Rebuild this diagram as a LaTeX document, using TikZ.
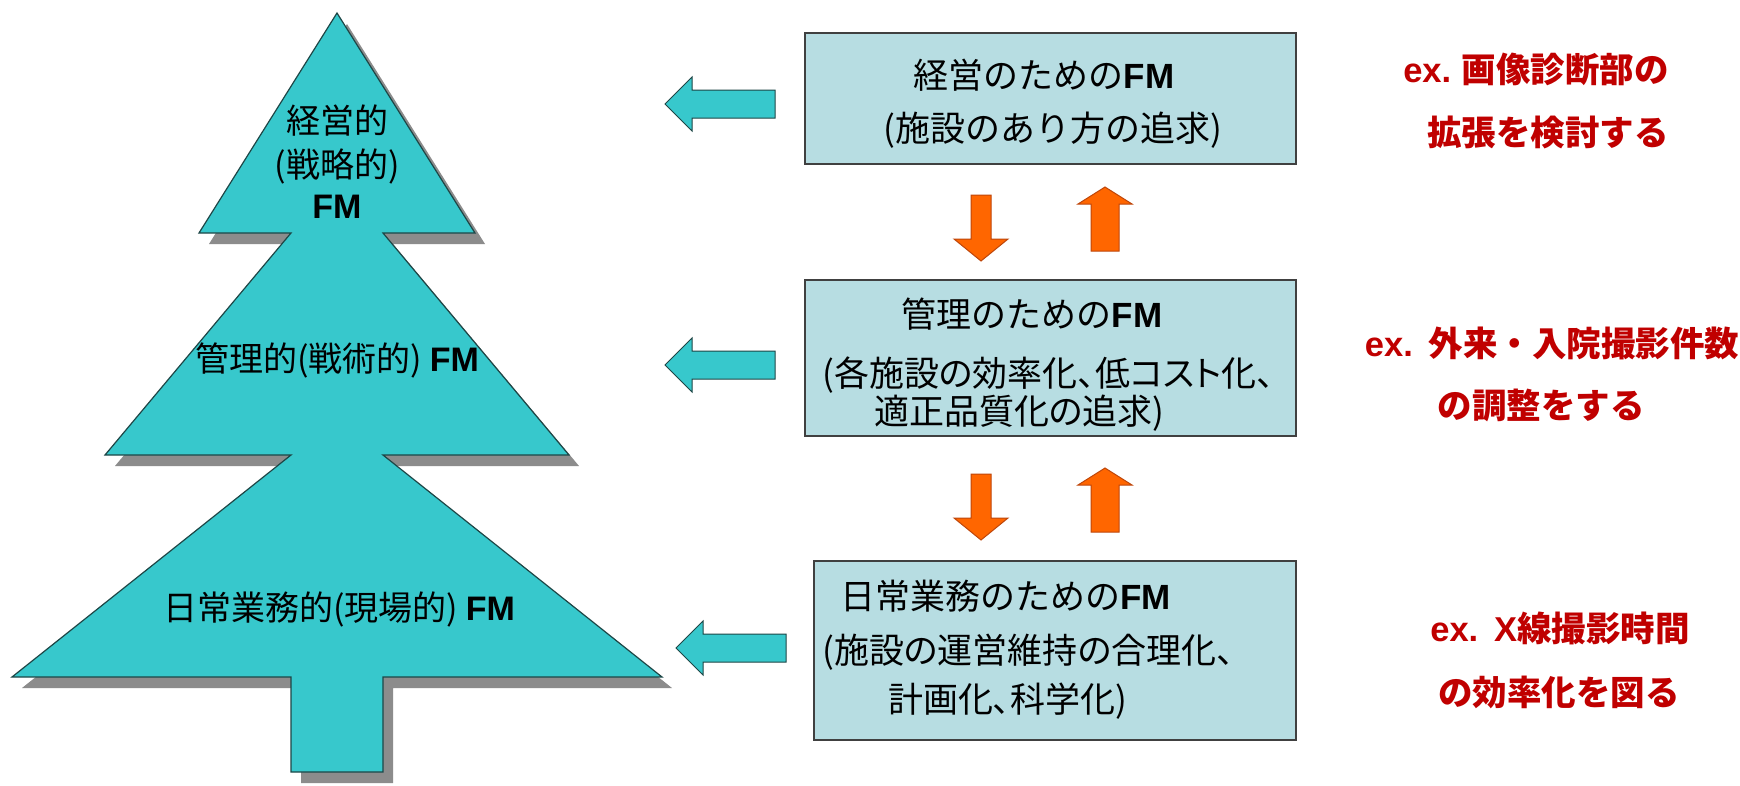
\documentclass[tikz,border=0pt]{standalone}
\usepackage{fontspec}
\setmainfont{Noto Sans CJK JP}
\newfontfamily\paltjp{Noto Sans CJK JP}[RawFeature=+palt]
\newfontfamily\lat{Liberation Sans}
\newcommand\FMtxt{{\lat\bfseries FM}}
\definecolor{treefill}{RGB}{55,200,204}
\definecolor{treeline}{RGB}{30,70,70}
\definecolor{boxfill}{RGB}{183,221,226}
\definecolor{orangefill}{RGB}{255,102,0}
\definecolor{orangeline}{RGB}{190,70,10}
\definecolor{redtxt}{RGB}{192,0,0}
\tikzset{
  treetext/.style={inner sep=0, font=\paltjp\fontsize{34}{38}\selectfont},
  boxtext/.style={inner sep=0, font=\fontsize{35}{40}\selectfont},
  boxtextp/.style={inner sep=0, font=\paltjp\fontsize{35}{40}\selectfont},
  redtext/.style={inner sep=0, text=redtxt, font=\bfseries\fontsize{34.5}{40}\selectfont},
  fmbox/.style={draw=black!75, line width=1.5pt, fill=boxfill, inner sep=0},
  cyanarrow/.style={fill=treefill, draw=treeline, line width=1pt},
  orangearrow/.style={fill=orangefill, draw=orangeline, line width=1pt},
  leftarr/.pic={\draw[cyanarrow] (0,0) -- (27,-27) -- (27,-14) -- (110,-14) -- (110,14) -- (27,14) -- (27,27) -- cycle;},
  downarr/.pic={\draw[orangearrow] (0,0) -- (-27,-22) -- (-10,-22) -- (-10,-66) -- (10,-66) -- (10,-22) -- (27,-22) -- cycle;},
  uparr/.pic={\draw[orangearrow] (0,0) -- (-27,17) -- (-14,17) -- (-14,64) -- (14,64) -- (14,17) -- (27,17) -- cycle;}
}
\begin{document}
\begin{tikzpicture}[x=1pt,y=-1pt]
\useasboundingbox (0,0) rectangle (1740,785);
\fill[white] (0,0) rectangle (1740,785);

% tree
\draw[fill=treefill, draw=treeline, line width=1.2pt,
  preaction={fill=black!45, transform canvas={shift={(10,11)}}}]
  (337,13) -- (475,233) -- (383,233) -- (569,455) -- (383,455) -- (662,677)
  -- (383,677) -- (383,772) -- (291,772) -- (291,677) -- (12,677)
  -- (291,455) -- (105,455) -- (291,233) -- (199,233) -- cycle;

\node[treetext] (t1a) at (337,121) {経営的};
\node[treetext] (t1b) at (337,166) {(戦略的)};
\node[treetext] (t1c) at (337,207) {\FMtxt};
\node[treetext] (t2) at (337,360) {管理的(戦術的) \FMtxt};
\node[treetext] (t3) at (339,609) {日常業務的(現場的) \FMtxt};

% boxes
\node[fmbox, minimum width=491pt, minimum height=131pt] (b1) at (1050.5,98.5) {};
\node[fmbox, minimum width=491pt, minimum height=156pt] (b2) at (1050.5,358) {};
\node[fmbox, minimum width=482pt, minimum height=179pt] (b3) at (1055,650.5) {};

\node[boxtext] (b1a) at (1044,75) {経営のための\FMtxt};
\node[boxtext] (b1b) at (1053,130) {(施設のあり方の追求)};
\node[boxtext] (b2a) at (1032,314) {管理のための\FMtxt};
\node[boxtextp, anchor=west] (b2b) at (822,375) {(各施設の効率化、低コスト化、};
\node[boxtextp, anchor=west] (b2c) at (874,413) {適正品質化の追求)};
\node[boxtext, anchor=west] (b3a) at (840,596) {日常業務のための\FMtxt};
\node[boxtextp, anchor=west] (b3b) at (822,652) {(施設の運営維持の合理化、};
\node[boxtextp, anchor=west] (b3c) at (888,701) {計画化、科学化)};

% cyan arrows
\pic at (665,104) {leftarr};
\pic at (665,365) {leftarr};
\pic at (676,648) {leftarr};

% orange arrows
\pic at (981,261) {downarr};
\pic at (1105,187) {uparr};
\pic at (981,540) {downarr};
\pic at (1105,468) {uparr};

% red examples
\node[redtext] (r1a) at (1536,69) {{\lat ex.} 画像診断部の};
\node[redtext] (r1b) at (1548,132) {拡張を検討する};
\node[redtext] (r2a) at (1552,343) {{\lat ex.}\ \ 外来・入院撮影件数};
\node[redtext] (r2b) at (1541,405) {の調整をする};
\node[redtext] (r3a) at (1560,628) {{\lat ex.}\ \ {\lat X}線撮影時間};
\node[redtext] (r3b) at (1559,692) {の効率化を図る};
\end{tikzpicture}
\end{document}
